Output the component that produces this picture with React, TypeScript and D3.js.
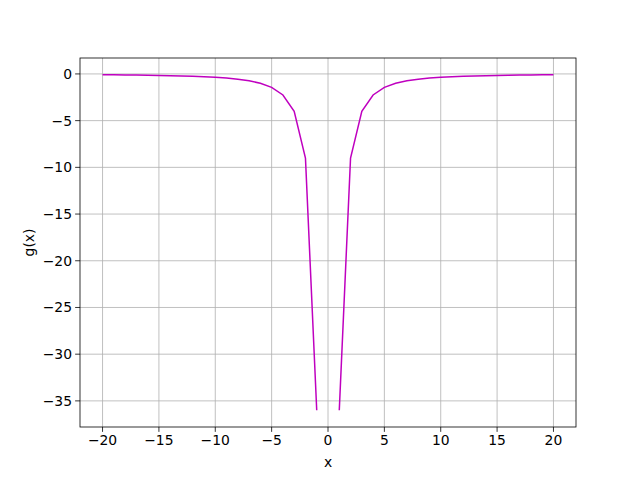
import React from "react";
import * as d3 from "d3";

const xLeft = [-20, -19, -18, -17, -16, -15, -14, -13, -12, -11, -10, -9, -8, -7, -6, -5, -4, -3, -2, -1];
const yLeft = [-0.09, -0.0997, -0.1111, -0.1246, -0.1406, -0.16, -0.1837, -0.213, -0.25, -0.2975, -0.36, -0.4444, -0.5625, -0.7347, -1, -1.44, -2.25, -4, -9, -36];
const xRight = [1, 2, 3, 4, 5, 6, 7, 8, 9, 10, 11, 12, 13, 14, 15, 16, 17, 18, 19, 20];
const yRight = [-36, -9, -4, -2.25, -1.44, -1, -0.7347, -0.5625, -0.4444, -0.36, -0.2975, -0.25, -0.213, -0.1837, -0.16, -0.1406, -0.1246, -0.1111, -0.0997, -0.09];
const xTicks = [-20, -15, -10, -5, 0, 5, 10, 15, 20];
const yTicks = [0, -5, -10, -15, -20, -25, -30, -35];

export default function App() {
  const W = 640, H = 480;
  const L = 80, R = 576, T = 58, B = 427;
  const x = d3.scaleLinear().domain([-22, 22]).range([L, R]);
  const y = d3.scaleLinear().domain([-37.7955, 1.7055]).range([B, T]);
  const line = d3.line<[number, number]>().x(d => x(d[0])).y(d => y(d[1]));
  const left: [number, number][] = xLeft.map((v, i) => [v, yLeft[i]]);
  const right: [number, number][] = xRight.map((v, i) => [v, yRight[i]]);
  const font = "DejaVu Sans, sans-serif";
  const fmt = (v: number) => (v < 0 ? "\u2212" + Math.abs(v) : String(v));
  return (
    <svg width={W} height={H} style={{ position: "absolute", left: 0, top: 0 }}>
      <rect width={W} height={H} fill="white" />
      {xTicks.map(t => (
        <line key={"gx" + t} x1={x(t)} x2={x(t)} y1={T} y2={B} stroke="#b0b0b0" strokeWidth={0.8} />
      ))}
      {yTicks.map(t => (
        <line key={"gy" + t} x1={L} x2={R} y1={y(t)} y2={y(t)} stroke="#b0b0b0" strokeWidth={0.8} />
      ))}
      <path d={line(left) || ""} fill="none" stroke="#bf00bf" strokeWidth={1.5} />
      <path d={line(right) || ""} fill="none" stroke="#bf00bf" strokeWidth={1.5} />
      <rect x={L} y={T} width={R - L} height={B - T} fill="none" stroke="black" strokeWidth={0.8} />
      {xTicks.map(t => (
        <g key={"tx" + t}>
          <line x1={x(t)} x2={x(t)} y1={B} y2={B + 4.86} stroke="black" strokeWidth={0.8} />
          <text x={x(t)} y={B + 18} textAnchor="middle" fontFamily={font} fontSize={13.9}>{fmt(t)}</text>
        </g>
      ))}
      {yTicks.map(t => (
        <g key={"ty" + t}>
          <line x1={L} x2={L - 4.86} y1={y(t)} y2={y(t)} stroke="black" strokeWidth={0.8} />
          <text x={L - 8} y={y(t)} dy="0.35em" textAnchor="end" fontFamily={font} fontSize={13.9}>{fmt(t)}</text>
        </g>
      ))}
      <text x={(L + R) / 2} y={467} textAnchor="middle" fontFamily={font} fontSize={13.9}>x</text>
      <text transform={`translate(34,${(T + B) / 2}) rotate(-90)`} textAnchor="middle" fontFamily={font} fontSize={13.9}>g(x)</text>
    </svg>
  );
}
